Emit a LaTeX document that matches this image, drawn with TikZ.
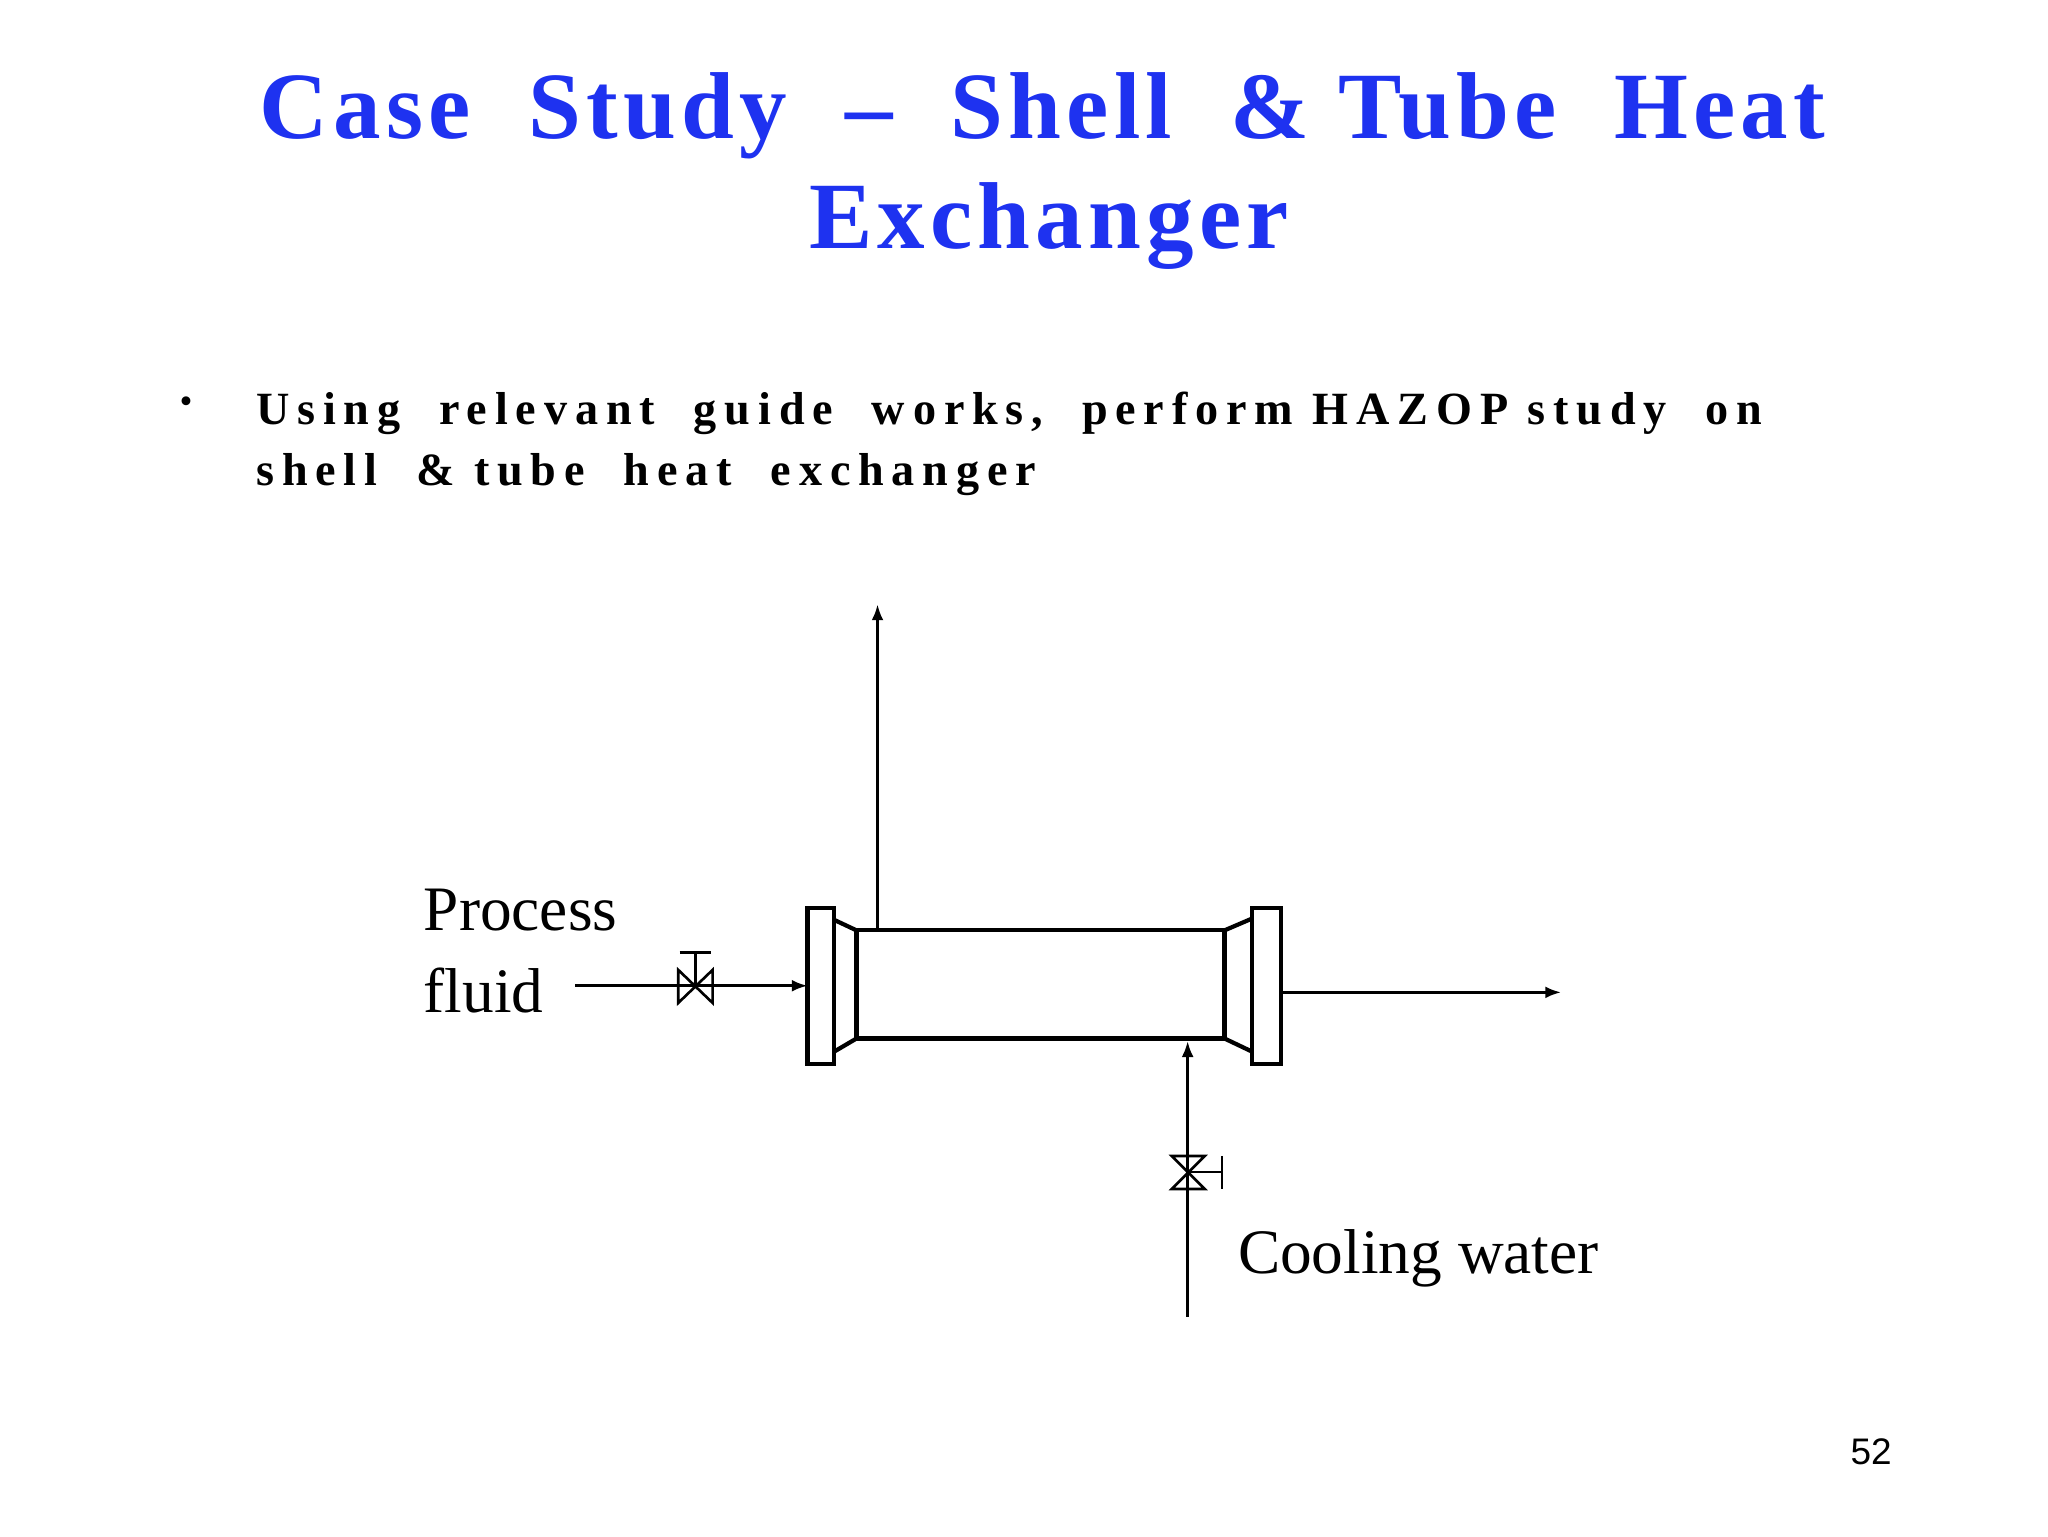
\documentclass[tikz,border=0pt]{standalone}
\usepackage{fontspec}
\usetikzlibrary{arrows.meta}
\setmainfont{Liberation Serif}
\newfontfamily\sansf{Liberation Sans}
\newfontfamily\ttlf[LetterSpace=5.5]{Liberation Serif}
\newfontfamily\bulf[LetterSpace=17]{Liberation Serif}
\definecolor{ttl}{RGB}{30,50,240}
\begin{document}
\begin{tikzpicture}[x=0.5pt,y=-0.5pt,line width=1.2pt,
  ln/.style={line width=1pt},
  arr/.style={line width=1pt,-{Latex[length=6pt,width=4.5pt]}},
  eq/.style={line width=1.6pt}]
\useasboundingbox (0,0) rectangle (1552,1164);
\node[anchor=base,text=ttl,font=\ttlf\bfseries\fontsize{36}{40}\selectfont] (t1) at (790,105) {Case\ \ Study\ \ –\ \ Shell\ \ \&\ Tube\ \ Heat};
\node[anchor=base,text=ttl,font=\ttlf\bfseries\fontsize{36}{40}\selectfont] (t2) at (795,188) {Exchanger};
\node[anchor=base,font=\fontsize{14}{16}\selectfont] (bul) at (141,313) {•};
\node[anchor=base west,inner sep=0,font=\bulf\bfseries\fontsize{17.5}{19}\selectfont] (b1) at (193,322) {Using\ \ relevant\ \ guide\ \ works,\ \ perform HAZOP study\ \ on};
\node[anchor=base west,inner sep=0,font=\bulf\bfseries\fontsize{17.5}{19}\selectfont] (b2) at (193,368) {shell\ \ \& tube\ \ heat\ \ exchanger};
% exchanger
\draw[eq] (612,688) rectangle (632,806);
\draw[eq] (949,688) rectangle (971,806);
\draw[eq] (649,705) rectangle (928,787);
\draw[eq] (632,697) -- (649,705) (632,797) -- (649,787);
\draw[eq] (928,705) -- (949,696) (928,787) -- (949,797);
\coordinate (topout) at (665,458);
\coordinate (rout) at (1183,752);
\coordinate (pin) at (436,747);
\coordinate (cin) at (900,998);
\draw[arr] (665,705) -- (topout);
\draw[arr] (971,752) -- (rout);
\draw[arr] (pin) -- (612,747);
\draw[arr] (cin) -- (900,789);
% valve on process line
\draw[ln] (514,735) -- (540,760) -- (540,735) -- (514,760) -- cycle;
\draw[ln] (527,747) -- (527,722) (515,722) -- (539,722);
% valve on cooling line
\draw[ln] (888,876) -- (913,901) -- (888,901) -- (913,876) -- cycle;
\draw[ln] (900,888) -- (926,888) (926,876) -- (926,901);
\node[anchor=base west,inner sep=0,font=\fontsize{24}{28}\selectfont] (pf1) at (320,705) {Process};
\node[anchor=base west,inner sep=0,font=\fontsize{24}{28}\selectfont] (pf2) at (320,767) {fluid};
\node[anchor=base west,inner sep=0,font=\fontsize{24}{28}\selectfont] (cw) at (937,965) {Cooling water};
\node[anchor=base,font=\sansf\fontsize{14}{16}\selectfont] (pg) at (1418,1110) {52};
\end{tikzpicture}
\end{document}
